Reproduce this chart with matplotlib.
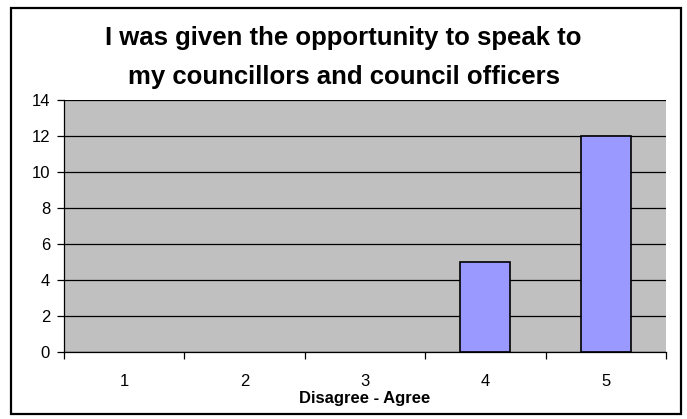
import matplotlib
matplotlib.use("Agg")
import matplotlib.pyplot as plt
from matplotlib.patches import Rectangle

plt.rcParams['font.family'] = ['Liberation Sans', 'DejaVu Sans']

categories = ["1", "2", "3", "4", "5"]
counts = [0, 0, 0, 5, 12]
yticks = [0, 2, 4, 6, 8, 10, 12, 14]
title_lines = ["I was given the opportunity to speak to",
               "my councillors and council officers"]

W, H = 687, 419
fig = plt.figure(figsize=(W / 100, H / 100), dpi=100)
# outer chart border
fig.patches.append(Rectangle((11 / W, 5 / H), 670 / W, 406 / H,
                             transform=fig.transFigure, fill=False,
                             edgecolor="black", linewidth=1.6))

ax = fig.add_axes([64 / W, (H - 352) / H, 602 / W, 252 / H])
ax.set_facecolor("#C0C0C0")
x = list(range(len(categories)))
# empty categories get no outline (Excel draws nothing there)
ax.bar(x, counts, width=0.415, color="#9999FF", edgecolor="black",
       linewidth=[1.2 if c else 0 for c in counts], zorder=2)

ax.set_xlim(-0.5, len(categories) - 0.5)
ax.set_ylim(0, 14)
ax.set_yticks(yticks)
ax.set_yticklabels([str(v) for v in yticks], fontsize=12)
ax.yaxis.grid(True, color="black", linewidth=0.9, zorder=1)
ax.set_axisbelow(True)

ax.set_xticks(x)
ax.set_xticklabels(categories, fontsize=12)
ax.tick_params(axis="x", length=0, pad=16)
ax.set_xticks([i + 0.5 for i in range(-1, len(categories))], minor=True)
ax.tick_params(axis="x", which="minor", length=5, direction="out", width=0.9)
ax.tick_params(axis="y", length=5, width=0.9, pad=5)

for s in ["top", "right"]:
    ax.spines[s].set_visible(False)
ax.spines["left"].set_linewidth(0.9)
ax.spines["bottom"].set_linewidth(0.9)

ax.set_xlabel("Disagree - Agree", fontsize=12, fontweight="bold", labelpad=1)

fig.text(0.5, 1 - 45 / H, title_lines[0], ha="center", va="baseline",
         fontsize=18.5, fontweight="bold")
fig.text(0.5, 1 - 84 / H, title_lines[1], ha="center", va="baseline",
         fontsize=18.5, fontweight="bold")

fig.savefig("out.png", dpi=100)
